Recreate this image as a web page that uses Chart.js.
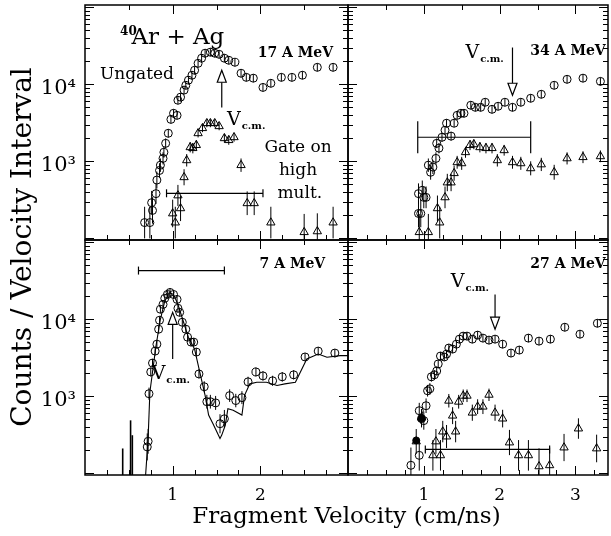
<!DOCTYPE html>
<html>
<head>
<meta charset="utf-8">
<script src="https://cdn.jsdelivr.net/npm/chart.js@4.4.1/dist/chart.umd.min.js"></script>
<style>
  html, body { margin: 0; padding: 0; background: #fff; }
  #wrap { position: relative; width: 611px; height: 536px; }
  #wrap canvas { position: absolute; left: 0; top: 0; }
</style>
</head>
<body>
<div id="wrap">
  <canvas id="p17" width="611" height="536"></canvas>
  <canvas id="p34" width="611" height="536"></canvas>
  <canvas id="p7" width="611" height="536"></canvas>
  <canvas id="p27" width="611" height="536"></canvas>
</div>
<script>
// ---- axes ----
var yTickVals = [1000, 10000];
var yTickText = ['10\u00b3', '10\u2074'];
var xTicksLeft = [1, 2];
var xTicksRight = [1, 2, 3];

// ---- 17 A MeV ----
var vel17u = [0.68,0.74,0.77,0.76,0.81,0.82,0.85,0.86,0.89,0.90,0.92,0.95,0.98,1.01,1.05,1.06,1.09,1.13,1.15,1.18,1.22,1.25,1.29,1.33,1.37,1.43,1.48,1.53,1.59,1.64,1.71,1.78,1.84,1.92,2.03,2.12,2.24,2.36,2.48,2.65,2.83];
var cnt17u = [160,160,230,290,380,570,760,890,1090,1310,1710,2310,3500,4200,3950,6200,6800,8400,9700,11300,13100,15200,18700,21800,25300,26100,25300,24500,21800,20500,19300,13900,12300,12000,9100,10300,12300,12300,13100,16600,16600];
var vel17g = [1.00,1.03,1.06,1.09,1.13,1.16,1.20,1.23,1.27,1.29,1.34,1.39,1.43,1.48,1.53,1.59,1.64,1.70,1.78,1.85,1.93,2.12,2.50,2.65,2.83];
var cnt17g = [210,160,360,245,620,1030,1520,1480,1620,2310,2690,3120,3120,3120,2850,1990,1880,2050,890,285,285,160,120,123,160];
var bar17 = [0.93, 2.03, 384];
var vcm17 = [1.56, 15200, 5000];

// ---- 34 A MeV ----
var vel34u = [0.93,0.96,0.93,0.98,1.00,1.03,1.06,1.09,1.12,1.16,1.17,1.20,1.24,1.28,1.30,1.36,1.40,1.44,1.49,1.53,1.62,1.68,1.75,1.81,1.90,1.98,2.07,2.17,2.28,2.41,2.55,2.72,2.89,3.10,3.33];
var cnt34u = [210,210,380,420,340,340,890,720,840,1090,1710,1480,2050,2530,3120,2120,3120,3950,4200,4200,5340,5020,5020,5840,4730,5180,5840,5020,5840,6580,7410,9700,11600,12000,10900];
var vel34g = [0.94,1.06,1.18,1.21,1.28,1.31,1.36,1.40,1.44,1.50,1.55,1.61,1.66,1.74,1.82,1.90,1.97,2.06,2.17,2.28,2.41,2.55,2.72,2.89,3.10,3.33];
var cnt34g = [120,120,245,160,340,530,530,700,970,940,1310,1620,1660,1520,1480,1480,1030,1390,970,940,810,910,720,1090,1130,1160];
var bar34 = [0.92, 2.41, 2050];
var vcm34 = [2.17, 7200, 30000];

// ---- 7 A MeV ----
var vel7 = [0.71,0.72,0.73,0.75,0.77,0.80,0.82,0.84,0.85,0.86,0.89,0.91,0.94,0.97,1.01,1.05,1.06,1.08,1.11,1.15,1.17,1.21,1.24,1.27,1.30,1.36,1.39,1.43,1.49,1.54,1.59,1.65,1.72,1.79,1.86,1.95,2.03,2.14,2.25,2.38,2.51,2.66,2.85];
var cnt7 = [220,260,1080,2070,2700,3860,4750,7430,9710,13500,15600,18700,21000,22300,21000,18100,13900,12300,9150,7430,5860,5050,5050,3750,1950,1330,850,850,820,440,510,1020,880,960,1540,2070,1840,1590,1790,1900,3240,3860,3640];
var fitV7 = [0.69,0.72,0.74,0.77,0.81,0.86,0.91,0.96,1.01,1.06,1.12,1.18,1.25,1.31,1.37,1.41,1.46,1.54,1.56,1.60,1.63,1.69,1.79,1.82,1.88,1.96,2.07,2.19,2.28,2.40,2.53,2.66,2.76,2.91,3.00];
var fitN7 = [90,283,1130,2050,4530,10000,17200,22100,21000,15600,9500,5800,4100,2050,1030,570,440,283,313,420,690,660,570,1030,1450,1520,1520,1380,1450,1520,3050,3530,3210,3370,3370];
var spikeV7 = [0.43, 0.52, 0.54];
var spikeN7 = [210, 487, 312];
var bar7 = [0.61, 1.59, 42900];
var vcm7 = [1.00, 12300, 3050];

// ---- 27 A MeV ----
var vel27u = [0.83,0.94,0.94,0.97,1.00,1.03,1.05,1.08,1.10,1.14,1.17,1.19,1.22,1.27,1.30,1.33,1.38,1.43,1.47,1.52,1.57,1.64,1.71,1.78,1.86,1.94,2.04,2.15,2.26,2.38,2.52,2.67,2.86,3.06,3.29];
var cnt27u = [127,171,650,513,483,754,1180,1250,1790,1900,2130,2630,3330,3240,3530,4230,4100,4750,5520,6040,6040,5520,6220,5690,5360,5520,4750,3640,3980,5690,5200,5520,7880,6400,8870];
var vel27f = [0.90, 0.97];
var cnt27f = [267, 513];
var vel27g = [0.90,0.97,1.12,1.16,1.22,1.25,1.30,1.33,1.38,1.42,1.46,1.52,1.57,1.64,1.71,1.78,1.86,1.94,2.04,2.13,2.25,2.38,2.52,2.66,2.85,3.04,3.28];
var cnt27g = [259,528,171,259,171,348,300,875,560,348,849,1015,1015,612,733,733,1045,612,513,251,171,171,123,127,216,381,210];
var bar27 = [1.02, 2.66, 204];
var vcm27 = [1.94, 7430, 21000];

var SERIF = '"DejaVu Serif", "Liberation Serif", serif';
var W = 611, H = 536;
var FRAME = { left: 85, mid: 348, right: 608, top: 5, midY: 240, bottom: 475 };
var Y_MIN = 95, Y_MAX = 107000;

function pts(vs, ns) {
  return vs.map(function(v, i) { return { x: v, y: ns[i] }; });
}

function circles(vs, ns) {
  return { data: pts(vs, ns), pointStyle: 'circle', pointRadius: 4, pointBorderWidth: 1,
    pointBorderColor: '#000', pointBackgroundColor: 'rgba(255,255,255,0)', showLine: false, errBars: true };
}

function triangles(vs, ns) {
  return { data: pts(vs, ns), pointStyle: 'triangle', pointRadius: 4.8, pointBorderWidth: 1,
    pointBorderColor: '#000', pointBackgroundColor: 'rgba(255,255,255,0)', showLine: false, errBars: true };
}

function bracket(b, cap) {
  return { data: [{ x: b[0], y: b[2] }, { x: b[1], y: b[2] }], showLine: true, borderColor: '#000',
    borderWidth: 1.2, pointStyle: 'line', rotation: 90, pointRadius: cap, pointBorderWidth: 1.2,
    pointBorderColor: '#000' };
}

function line(ctx, x1, y1, x2, y2) {
  ctx.beginPath(); ctx.moveTo(x1, y1); ctx.lineTo(x2, y2); ctx.stroke();
}

function drawVcm(ctx, x, y) {
  ctx.textAlign = 'left';
  ctx.textBaseline = 'alphabetic';
  ctx.font = '19px ' + SERIF;
  ctx.fillText('V', x, y);
  var w = ctx.measureText('V').width;
  ctx.font = 'bold 10px ' + SERIF;
  ctx.fillText('c.m.', x + w + 1, y + 4);
}

var decor = {
  id: 'decor',
  afterDatasetsDraw: function(chart, args, o) {
    var ctx = chart.ctx, a = chart.chartArea, xs = chart.scales.x, ys = chart.scales.y;
    ctx.save();
    ctx.beginPath();
    ctx.rect(a.left, a.top, a.right - a.left, a.bottom - a.top);
    ctx.clip();
    ctx.strokeStyle = '#000';
    ctx.fillStyle = '#000';
    ctx.lineWidth = 1;
    // error bars through each marker
    chart.data.datasets.forEach(function(ds, i) {
      if (!ds.errBars) return;
      chart.getDatasetMeta(i).data.forEach(function(pt, j) {
        var h = Math.min(26, Math.max(4, 200 / Math.sqrt(ds.data[j].y)));
        line(ctx, pt.x, pt.y - h, pt.x, pt.y + h);
      });
    });
    // zero-count spikes
    if (o.spikes) {
      ctx.lineWidth = 1.6;
      o.spikes[0].forEach(function(v, i) {
        var x = xs.getPixelForValue(v);
        line(ctx, x, a.bottom, x, ys.getPixelForValue(o.spikes[1][i]));
      });
    }
    // V c.m. arrow
    if (o.arrow) {
      var ax = xs.getPixelForValue(o.arrow[0]);
      var tip = ys.getPixelForValue(o.arrow[1]), tail = ys.getPixelForValue(o.arrow[2]);
      var dir = tail > tip ? 1 : -1, base = tip + dir * 12;
      ctx.lineWidth = 1.2;
      line(ctx, ax, base, ax, tail);
      ctx.beginPath();
      ctx.moveTo(ax, tip); ctx.lineTo(ax - 4.5, base); ctx.lineTo(ax + 4.5, base); ctx.closePath();
      ctx.fillStyle = '#fff'; ctx.fill(); ctx.stroke();
    }
    ctx.restore();
  },
  afterDraw: function(chart, args, o) {
    var ctx = chart.ctx, a = chart.chartArea, xs = chart.scales.x, ys = chart.scales.y;
    ctx.save();
    ctx.strokeStyle = '#000';
    ctx.fillStyle = '#000';
    // inward ticks
    ctx.lineWidth = 1;
    for (var d = 2; d <= 5; d++) {
      for (var m = 1; m <= 9; m++) {
        var val = m * Math.pow(10, d);
        if (val < ys.min || val > ys.max) continue;
        var y = Math.round(ys.getPixelForValue(val)) + 0.5, len = m === 1 ? 9 : 5;
        line(ctx, a.left, y, a.left + len, y);
        line(ctx, a.right, y, a.right - len, y);
      }
    }
    for (var k = 1; k * 0.25 < xs.max - 0.01; k++) {
      var x = Math.round(xs.getPixelForValue(k * 0.25)) + 0.5, major = k % 4 === 0;
      line(ctx, x, a.bottom, x, a.bottom - (major ? 9 : 5));
      if (k % 2 === 0) line(ctx, x, a.top, x, a.top + (major ? 9 : 5));
    }
    ctx.lineWidth = 1.5;
    ctx.strokeRect(a.left, a.top, a.right - a.left, a.bottom - a.top);

    // tick labels
    if (o.yLabels) {
      ctx.font = '21px ' + SERIF;
      ctx.textAlign = 'right';
      ctx.textBaseline = 'middle';
      yTickVals.forEach(function(v, i) {
        ctx.fillText(yTickText[i], a.left - 9, ys.getPixelForValue(v) + 4);
      });
    }
    if (o.xLabels) {
      ctx.font = '17px ' + SERIF;
      ctx.textAlign = 'center';
      ctx.textBaseline = 'middle';
      o.xLabels.forEach(function(v) {
        ctx.fillText(String(v), xs.getPixelForValue(v), a.bottom + 21);
      });
    }

    // annotations anchored in data space
    (o.notes || []).forEach(function(n) {
      var x = xs.getPixelForValue(n.v), y = ys.getPixelForValue(n.n);
      if (n.vcm) { drawVcm(ctx, x, y); return; }
      ctx.font = n.font + ' ' + SERIF;
      ctx.textAlign = n.align || 'left';
      ctx.textBaseline = 'alphabetic';
      ctx.fillText(n.t, x, y);
    });

    // axis titles
    if (o.titles) {
      ctx.font = '23px ' + SERIF;
      ctx.textAlign = 'center';
      ctx.textBaseline = 'alphabetic';
      ctx.fillText('Fragment Velocity (cm/ns)', (FRAME.left + FRAME.right) / 2, FRAME.bottom + 48);
      ctx.translate(31, (FRAME.top + FRAME.bottom) / 2 + 7);
      ctx.rotate(-Math.PI / 2);
      ctx.font = '28px ' + SERIF;
      ctx.fillText('Counts / Velocity Interval', 0, 0);
    }
    ctx.restore();
  }
};

function makePanel(canvasId, area, xMax, datasets, deco) {
  return new Chart(document.getElementById(canvasId), {
    type: 'scatter',
    data: { datasets: datasets },
    options: {
      responsive: false,
      animation: false,
      events: [],
      layout: { autoPadding: false,
        padding: { left: area[0], top: area[1], right: W - area[2], bottom: H - area[3] } },
      scales: {
        x: { type: 'linear', min: 0, max: xMax, display: false },
        y: { type: 'logarithmic', min: Y_MIN, max: Y_MAX, display: false }
      },
      plugins: { legend: { display: false }, tooltip: { enabled: false }, decor: deco }
    },
    plugins: [decor]
  });
}

makePanel('p17', [FRAME.left, FRAME.top, FRAME.mid, FRAME.midY], 3.0,
  [circles(vel17u, cnt17u), triangles(vel17g, cnt17g), bracket(bar17, 4)],
  { yLabels: true, arrow: vcm17, notes: [
    { t: '40', v: 0.40, n: 43000, font: 'bold 12px' },
    { t: 'Ar + Ag', v: 0.53, n: 33000, font: '23px' },
    { t: 'Ungated', v: 0.17, n: 11600, font: '17px' },
    { t: '17 A MeV', v: 2.83, n: 22400, font: 'bold 14px', align: 'right' },
    { t: 'Gate on', v: 2.43, n: 1310, font: '17px', align: 'center' },
    { t: 'high', v: 2.43, n: 658, font: '17px', align: 'center' },
    { t: 'mult.', v: 2.45, n: 330, font: '17px', align: 'center' },
    { vcm: true, v: 1.62, n: 2940 }
  ] });

makePanel('p34', [FRAME.mid, FRAME.top, FRAME.right, FRAME.midY], 3.43,
  [circles(vel34u, cnt34u), triangles(vel34g, cnt34g), bracket(bar34, 16)],
  { arrow: vcm34, notes: [
    { t: '34 A MeV', v: 3.40, n: 23800, font: 'bold 14px', align: 'right' },
    { vcm: true, v: 1.55, n: 21800 }
  ] });

makePanel('p7', [FRAME.left, FRAME.midY, FRAME.mid, FRAME.bottom], 3.0,
  [circles(vel7, cnt7),
   { data: pts(fitV7, fitN7), showLine: true, borderColor: '#000', borderWidth: 1.1, pointRadius: 0 },
   bracket(bar7, 4)],
  { yLabels: true, xLabels: xTicksLeft, arrow: vcm7, spikes: [spikeV7, spikeN7], notes: [
    { t: '7 A MeV', v: 2.74, n: 46400, font: 'bold 14px', align: 'right' },
    { vcm: true, v: 0.76, n: 1680 }
  ] });

makePanel('p27', [FRAME.mid, FRAME.midY, FRAME.right, FRAME.bottom], 3.43,
  [circles(vel27u, cnt27u), triangles(vel27g, cnt27g),
   { data: pts(vel27f, cnt27f), pointStyle: 'circle', pointRadius: 3.5, pointBackgroundColor: '#000',
     pointBorderColor: '#000', showLine: false },
   bracket(bar27, 4)],
  { xLabels: xTicksRight, titles: true, arrow: vcm27, notes: [
    { t: '27 A MeV', v: 3.40, n: 46400, font: 'bold 14px', align: 'right' },
    { vcm: true, v: 1.355, n: 25900 }
  ] });
</script>
</body>
</html>
